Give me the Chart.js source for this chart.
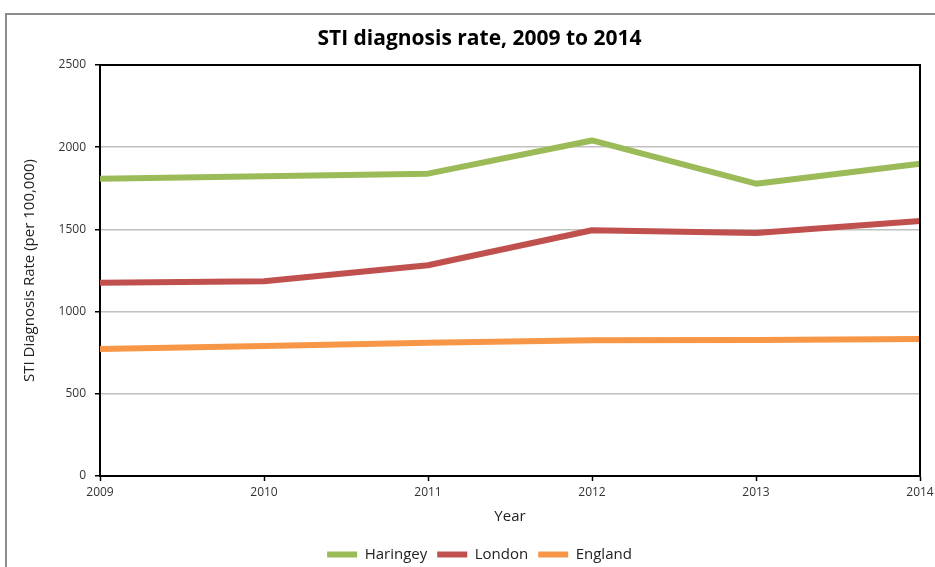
<!DOCTYPE html>
<html>
<head>
<meta charset="utf-8">
<script src="https://cdn.jsdelivr.net/npm/chart.js@4.4.1/dist/chart.umd.min.js"></script>
<style>
  html, body { margin: 0; padding: 0; background: #fff; overflow: hidden; }
  #frame { position: absolute; left: 5px; top: 13px; width: 1000px; height: 700px; border: 2px solid #8c8c8c; }
  #wrap { position: absolute; left: 0; top: 0; width: 935px; height: 572px; }
</style>
</head>
<body>
<div id="frame"></div>
<div id="wrap"><canvas id="my-chart" width="935" height="572"></canvas></div>
<script>
let years = ['2009', '2010', '2011', '2012', '2013', '2014'];
let haringey = [1808, 1823, 1839, 2041, 1778, 1899];
let london = [1175, 1185, 1282, 1495, 1478, 1551];
let england = [772, 790, 811, 825, 828, 833];

let font = "'Open Sans', sans-serif";

// black frame round the plot area (top and right sides)
let plotBorder = {
    id: 'plotBorder',
    afterDatasetsDraw: function(chart) {
        let a = chart.chartArea;
        let ctx = chart.ctx;
        ctx.save();
        ctx.strokeStyle = '#000';
        ctx.lineWidth = 2;
        ctx.beginPath();
        ctx.moveTo(a.left, a.top);
        ctx.lineTo(a.right, a.top);
        ctx.lineTo(a.right, a.bottom);
        ctx.stroke();
        ctx.restore();
    }
};

function series(label, values, colour) {
    return {
        label: label,
        data: values,
        borderColor: colour,
        backgroundColor: colour,
        borderWidth: 6,
        pointRadius: 0,
        pointHoverRadius: 0,
        pointBorderWidth: 6,
        pointBorderColor: colour
    };
}

let ctx = document.getElementById('my-chart').getContext('2d');

let myData = {
    labels: years,
    datasets: [
        series('Haringey', haringey, '#9BBB59'),
        series('London', london, '#C0504D'),
        series('England', england, '#F79646')
    ]
};

let myLineChart = new Chart(ctx, {
    type: 'line',
    data: myData,
    plugins: [plotBorder],
    options: {
        responsive: false,
        animation: false,
        layout: { padding: { left: 24, right: 0, top: 0, bottom: 0 } },
        elements: {
            line: { tension: 0, borderJoinStyle: 'round', borderCapStyle: 'butt' }
        },
        plugins: {
            title: {
                display: true,
                text: 'STI diagnosis rate, 2009 to 2014',
                color: '#000',
                font: { family: font, size: 21, weight: 'bold' },
                padding: { top: 26.4, bottom: 13.4 }
            },
            legend: {
                position: 'bottom',
                labels: {
                    usePointStyle: true,
                    pointStyle: 'line',
                    pointStyleWidth: 30,
                    color: '#222',
                    font: { family: font, size: 15 },
                    padding: 10
                }
            },
            tooltip: { enabled: false }
        },
        scales: {
            x: {
                offset: false,
                grid: { display: true, drawOnChartArea: false, tickLength: 5, tickColor: '#000', tickWidth: 1.5 },
                border: { color: '#000', width: 2 },
                ticks: { color: '#333', font: { family: font, size: 12 }, padding: 4, maxRotation: 0 },
                title: { display: true, text: 'Year', color: '#222', font: { family: font, size: 15 }, padding: { top: 4.6, bottom: 11 } },
                afterFit: function(scale) {
                    scale.paddingLeft = 0;
                    scale.paddingRight = 15;
                }
            },
            y: {
                min: 0,
                max: 2500,
                grid: { color: '#c0c0c0', lineWidth: 1.5, tickLength: 5, tickColor: '#000', tickWidth: 1.5 },
                border: { color: '#000', width: 2 },
                ticks: {
                    stepSize: 500,
                    color: '#333',
                    font: { family: font, size: 12 },
                    padding: 9,
                    callback: function(value) { return String(value); }
                },
                title: { display: true, text: 'STI Diagnosis Rate (per 100,000)', color: '#222', font: { family: font, size: 15 }, padding: { top: -3, bottom: 0 } },
                afterFit: function(scale) {
                    scale.width = 76;
                }
            }
        }
    }
});
</script>
</body>
</html>
